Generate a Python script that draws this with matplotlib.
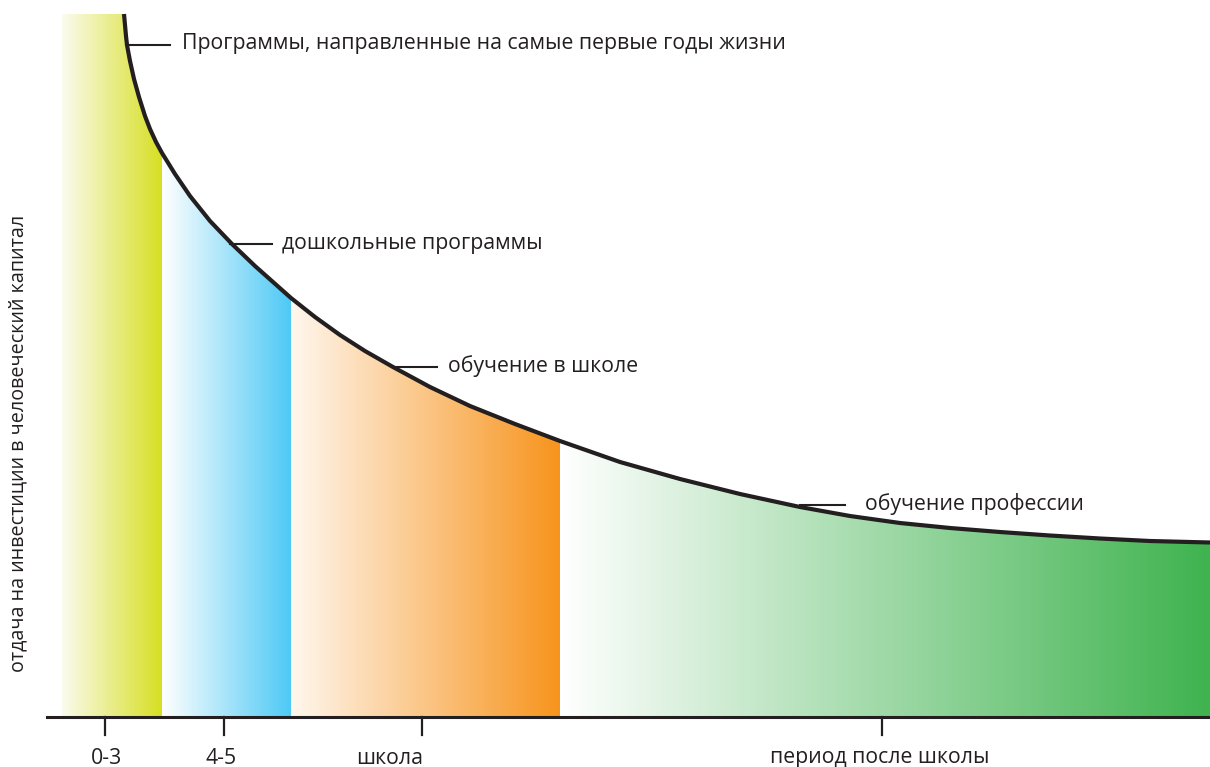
import matplotlib
matplotlib.use("Agg")
from matplotlib import pyplot as plt
from matplotlib.colors import LinearSegmentedColormap
import numpy as np

plt.rcParams['font.family'] = ['Open Sans', 'DejaVu Sans']

# curve of returns (x along age axis, y = height above baseline)
curve_x = [124, 125, 126, 127, 130, 134, 139, 145, 150, 156, 162, 175, 190, 210, 232,
           255, 273, 291, 315, 340, 365, 393, 430, 470, 515, 560, 620, 680, 740,
           800, 850, 900, 950, 1000, 1050, 1100, 1150, 1210]
curve_y = [703, 692, 681, 672, 656, 638, 620, 601, 588, 575, 564, 543, 521, 496, 473,
           451, 435, 419, 400, 382, 366, 350, 330, 311, 293, 276, 255, 238, 223,
           210, 201, 194, 189, 185, 181.5, 178.5, 176, 174.5]

# age periods: bounds and colours
period_edges = [62, 162, 291, 560, 1210]
period_colors = ["#d7df23", "#4ec9f5", "#f7941d", "#3fb34f"]
period_start = ["#fbfbee", "#ffffff", "#fff7ee", "#ffffff"]

tick_pos = [105, 224, 422, 882]
tick_labels = ["0-3", "4-5", "школа", "период после школы"]
tick_label_x = [106, 221, 390, 880]

annotations = ["Программы, направленные на самые первые годы жизни",
               "дошкольные программы",
               "обучение в школе",
               "обучение профессии"]
ann_curve_x = [126, 230, 395, 800]
ann_y = [672, 473, 350, 212]
ann_line_end = [170, 272, 437, 845]
ann_text_x = [182, 282, 448, 865]

ylabel = "отдача на инвестиции в человеческий капитал"

fig = plt.figure(figsize=(12.1, 7.67), dpi=100)
ax = fig.add_axes([0, 0, 1, 1])
ax.set_xlim(0, 1210)
ax.set_ylim(-50, 717)
ax.axis("off")

cx = np.array(curve_x, dtype=float)
cy = np.array(curve_y, dtype=float)

for i, col in enumerate(period_colors):
    x0, x1 = period_edges[i], period_edges[i + 1]
    if i == 0:
        # first block is flat at the curve's top to the left of the curve
        px = [x0] + [x for x in curve_x if x <= x1]
        py = [cy[0]] + [y for x, y in zip(curve_x, curve_y) if x <= x1]
    else:
        px = [x for x in curve_x if x0 <= x <= x1]
        py = [y for x, y in zip(curve_x, curve_y) if x0 <= x <= x1]
    if px[0] > x0:
        px = [x0] + px
        py = [np.interp(x0, cx, cy)] + py
    if px[-1] < x1:
        px = px + [x1]
        py = py + [np.interp(x1, cx, cy)]
    poly = ax.fill_between(px, 0, py, color="none", lw=0)
    cmap = LinearSegmentedColormap.from_list("g%d" % i, [period_start[i], col])
    grad = np.linspace(0, 1, 256).reshape(1, -1)
    im = ax.imshow(grad, cmap=cmap, extent=[x0, x1, 0, max(py) + 2],
                   aspect="auto", zorder=1, interpolation="bilinear")
    im.set_clip_path(poly.get_paths()[0], transform=ax.transData)

ax.plot(curve_x, curve_y, color="#231f20", lw=3, solid_capstyle="butt",
        solid_joinstyle="round", zorder=3)

# baseline and ticks
ax.plot([47, 1210], [0, 0], color="#231f20", lw=2.2, zorder=3)
for t in tick_pos:
    ax.plot([t, t], [0, -18], color="#231f20", lw=1.6, zorder=3)
for lab, lx in zip(tick_labels, tick_label_x):
    ax.text(lx, -41, lab, ha="center", va="center", fontsize=15.3, color="#231f20")

for txt, x0, y, x1, tx in zip(annotations, ann_curve_x, ann_y, ann_line_end, ann_text_x):
    ax.plot([x0, x1], [y, y], color="#231f20", lw=1.5, zorder=3)
    ax.text(tx, y + 1, txt, ha="left", va="center", fontsize=15.3, color="#231f20")

ax.text(18, 274, ylabel, rotation=90, ha="center", va="center", fontsize=14.2, color="#231f20")

fig.savefig("out.png", dpi=100)
